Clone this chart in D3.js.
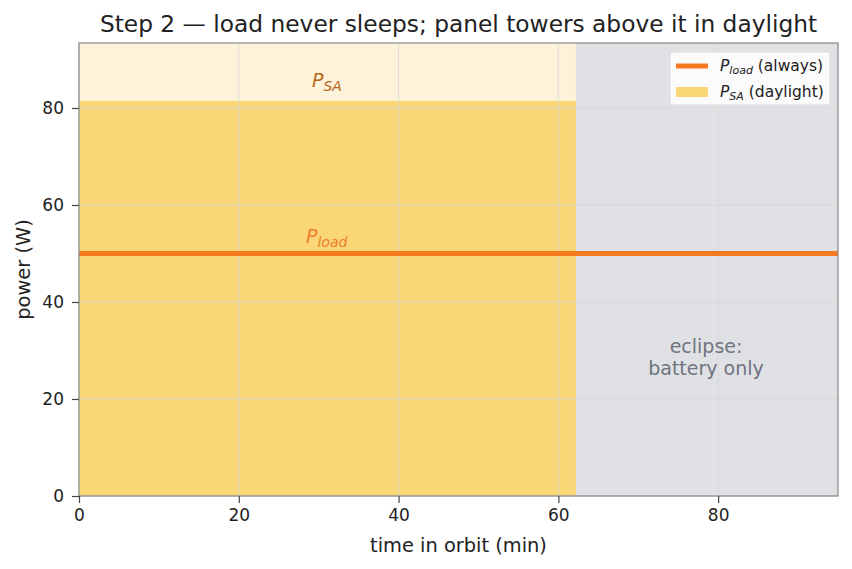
<!DOCTYPE html>
<html>
<head>
<meta charset="utf-8">
<script src="https://cdn.jsdelivr.net/npm/d3@7"></script>
<style>
  body { margin: 0; background: #fff; }
  svg { font-family: "DejaVu Sans", sans-serif; }
</style>
</head>
<body>
<svg id="chart" width="852" height="569"></svg>
<script>
// orbit timing (min)
const orbitEnd = 95;
const sunsetTime = 62.2;
// solar array output over daylight
const psaTimes = [0, 62.2];
const psaValues = [81.5, 81.5];
// load draw, always on
const loadTimes = [0, 95];
const loadValues = [50, 50];
const xTicks = [0, 20, 40, 60, 80];
const yTicks = [0, 20, 40, 60, 80];

const margin = {top: 43, right: 14, bottom: 73, left: 79};
const width = 852, height = 569;
const svg = d3.select('#chart');

const x = d3.scaleLinear().domain([0, orbitEnd]).range([margin.left, width - margin.right]);
const y = d3.scaleLinear().domain([0, 93.4]).range([height - margin.bottom, margin.top]);

const g = svg.append('g');

// daylight / eclipse backgrounds
g.append('rect')
  .attr('x', x(0)).attr('y', y.range()[1])
  .attr('width', x(sunsetTime) - x(0))
  .attr('height', y(0) - y.range()[1])
  .attr('fill', '#fdf3da');
g.append('rect')
  .attr('x', x(sunsetTime)).attr('y', y.range()[1])
  .attr('width', x(orbitEnd) - x(sunsetTime))
  .attr('height', y(0) - y.range()[1])
  .attr('fill', '#e0e1e4');

// PSA area
const psaData = psaTimes.map((t, i) => ({t: t, v: psaValues[i]}));
g.append('path')
  .datum(psaData)
  .attr('fill', '#fad677')
  .attr('d', d3.area().x(d => x(d.t)).y0(y(0)).y1(d => y(d.v)));

// grid
g.append('g').selectAll('line').data(xTicks).enter().append('line')
  .attr('x1', d => x(d)).attr('x2', d => x(d))
  .attr('y1', y.range()[1]).attr('y2', y(0))
  .attr('stroke', '#d9d9d9').attr('stroke-width', 1).attr('opacity', 0.8);
g.append('g').selectAll('line').data(yTicks).enter().append('line')
  .attr('x1', x(0)).attr('x2', x(orbitEnd))
  .attr('y1', d => y(d)).attr('y2', d => y(d))
  .attr('stroke', '#d9d9d9').attr('stroke-width', 1).attr('opacity', 0.8);

// load line
const loadData = loadTimes.map((t, i) => ({t: t, v: loadValues[i]}));
g.append('path')
  .datum(loadData)
  .attr('fill', 'none')
  .attr('stroke', '#f57a1f')
  .attr('stroke-width', 5)
  .attr('d', d3.line().x(d => x(d.t)).y(d => y(d.v)));

// annotations
const psaLabel = g.append('text')
  .attr('x', 312).attr('y', 87)
  .attr('fill', '#b8651a')
  .attr('font-size', 19).attr('font-style', 'italic');
psaLabel.append('tspan').text('P');
psaLabel.append('tspan').attr('font-size', 14).attr('dy', 4).text('SA');

const loadLabel = g.append('text')
  .attr('x', 306).attr('y', 243)
  .attr('fill', '#ef7d2a')
  .attr('font-size', 19).attr('font-style', 'italic');
loadLabel.append('tspan').text('P');
loadLabel.append('tspan').attr('font-size', 14).attr('dy', 4).text('load');

g.append('text')
  .attr('x', 706).attr('y', 353)
  .attr('text-anchor', 'middle')
  .attr('fill', '#6f7480').attr('font-size', 19)
  .text('eclipse:');
g.append('text')
  .attr('x', 706).attr('y', 375)
  .attr('text-anchor', 'middle')
  .attr('fill', '#6f7480').attr('font-size', 19)
  .text('battery only');

// frame
g.append('rect')
  .attr('x', x(0)).attr('y', y.range()[1])
  .attr('width', x(orbitEnd) - x(0))
  .attr('height', y(0) - y.range()[1])
  .attr('fill', 'none').attr('stroke', '#888').attr('stroke-width', 1.2);

// axes
const xAxis = svg.append('g')
  .attr('transform', `translate(0,${y(0)})`)
  .call(d3.axisBottom(x).tickValues(xTicks).tickSize(7).tickPadding(6));
const yAxis = svg.append('g')
  .attr('transform', `translate(${x(0)},0)`)
  .call(d3.axisLeft(y).tickValues(yTicks).tickSize(7).tickPadding(8));
[xAxis, yAxis].forEach(a => {
  a.select('.domain').remove();
  a.selectAll('.tick line').attr('stroke', '#444').attr('stroke-width', 1.2);
  a.selectAll('.tick text').attr('font-size', 17).attr('fill', '#222')
    .attr('font-family', '"DejaVu Sans", sans-serif');
});

svg.append('text')
  .attr('x', (x(0) + x(orbitEnd)) / 2).attr('y', 552)
  .attr('text-anchor', 'middle').attr('font-size', 19.4).attr('fill', '#222')
  .text('time in orbit (min)');
svg.append('text')
  .attr('transform', `translate(30,${(y(0) + y.range()[1]) / 2}) rotate(-90)`)
  .attr('text-anchor', 'middle').attr('font-size', 19.4).attr('fill', '#222')
  .text('power (W)');
svg.append('text')
  .attr('x', (x(0) + x(orbitEnd)) / 2).attr('y', 32)
  .attr('text-anchor', 'middle').attr('font-size', 23.3).attr('fill', '#222')
  .text('Step 2 — load never sleeps; panel towers above it in daylight');

// legend
const leg = svg.append('g').attr('transform', 'translate(670,52)');
leg.append('rect')
  .attr('width', 160).attr('height', 53).attr('rx', 3)
  .attr('fill', '#fff').attr('fill-opacity', 0.85)
  .attr('stroke', '#ddd');
const legItems = [
  {sub: 'load', rest: ' (always)', color: '#f57a1f', h: 5, cy: 14},
  {sub: 'SA', rest: ' (daylight)', color: '#fad677', h: 10, cy: 40}
];
legItems.forEach(it => {
  const row = leg.append('g').attr('transform', `translate(0,${it.cy})`);
  row.append('rect')
    .attr('x', 6).attr('y', -it.h / 2).attr('width', 32).attr('height', it.h)
    .attr('fill', it.color);
  const t = row.append('text').attr('x', 50).attr('y', 5)
    .attr('font-size', 15.5).attr('fill', '#222');
  t.append('tspan').attr('font-style', 'italic').text('P');
  t.append('tspan').attr('font-style', 'italic').attr('font-size', 11).attr('dy', 3).text(it.sub);
  t.append('tspan').attr('dy', -3).text(it.rest);
});
</script>
</body>
</html>
